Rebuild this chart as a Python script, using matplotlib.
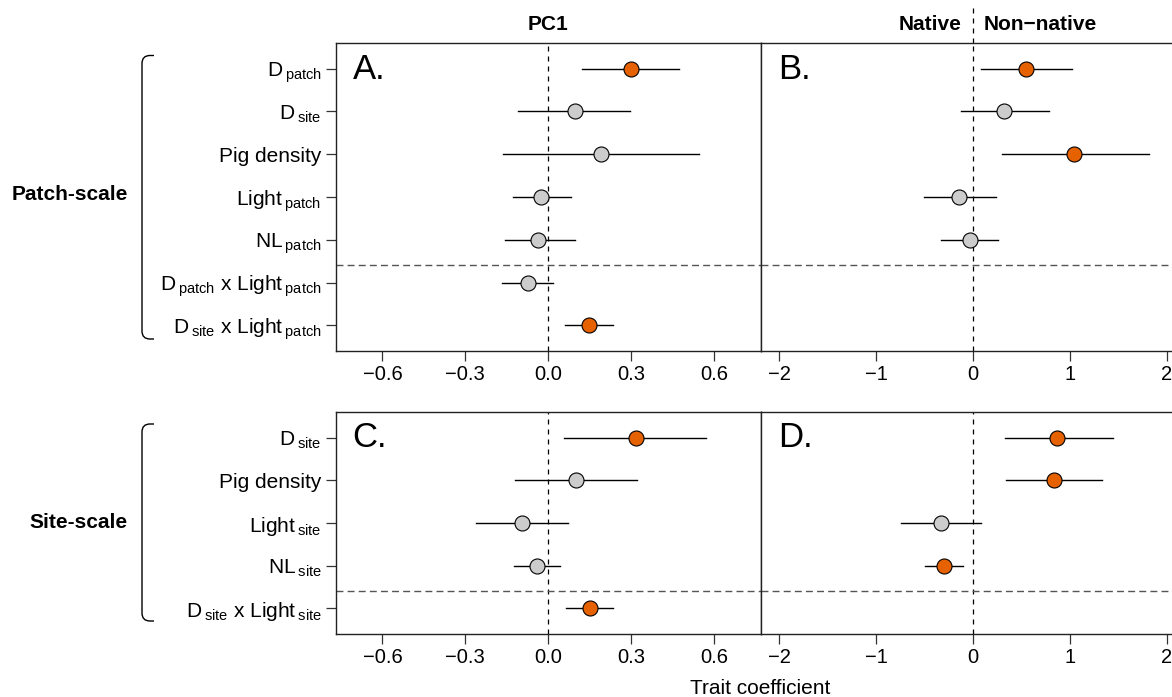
import matplotlib
matplotlib.use("Agg")
import matplotlib.pyplot as plt
from matplotlib.path import Path
from matplotlib.patches import PathPatch

plt.rcParams['font.family'] = ['Liberation Sans', 'DejaVu Sans']
plt.rcParams['mathtext.fontset'] = 'custom'
plt.rcParams['mathtext.rm'] = 'Liberation Sans'
plt.rcParams['mathtext.it'] = 'Liberation Sans'

ORANGE = '#E66100'
GREY = '#CCCCCC'
FS = 15

# patch-scale model
patch_labels = [r'D$\,_{\mathregular{patch}}$', r'D$\,_{\mathregular{site}}$', 'Pig density',
                r'Light$\,_{\mathregular{patch}}$', r'NL$\,_{\mathregular{patch}}$',
                r'D$\,_{\mathregular{patch}}$ x Light$\,_{\mathregular{patch}}$',
                r'D$\,_{\mathregular{site}}$ x Light$\,_{\mathregular{patch}}$']
pc1_patch_est = [0.298, 0.096, 0.190, -0.027, -0.036, -0.075, 0.146]
pc1_patch_lo = [0.122, -0.110, -0.163, -0.126, -0.158, -0.167, 0.060]
pc1_patch_hi = [0.473, 0.296, 0.547, 0.081, 0.096, 0.017, 0.235]
pc1_patch_sig = [True, False, False, False, False, False, True]

nat_patch_est = [0.552, 0.321, 1.048, -0.148, -0.034]
nat_patch_lo = [0.083, -0.121, 0.303, -0.507, -0.331]
nat_patch_hi = [1.021, 0.783, 1.821, 0.238, 0.262]
nat_patch_sig = [True, False, True, False, False]

# site-scale model
site_labels = [r'D$\,_{\mathregular{site}}$', 'Pig density', r'Light$\,_{\mathregular{site}}$',
               r'NL$\,_{\mathregular{site}}$', r'D$\,_{\mathregular{site}}$ x Light$\,_{\mathregular{site}}$']
pc1_site_est = [0.317, 0.102, -0.096, -0.040, 0.150]
pc1_site_lo = [0.056, -0.119, -0.262, -0.123, 0.063]
pc1_site_hi = [0.571, 0.321, 0.070, 0.042, 0.235]
pc1_site_sig = [True, False, False, False, True]

nat_site_est = [0.869, 0.838, -0.331, -0.297]
nat_site_lo = [0.328, 0.341, -0.745, -0.493]
nat_site_hi = [1.448, 1.334, 0.083, -0.100]
nat_site_sig = [True, True, False, True]

pc1_ticks = [-0.6, -0.3, 0.0, 0.3, 0.6]
pc1_ticklabels = ['\u22120.6', '\u22120.3', '0.0', '0.3', '0.6']
nat_ticks = [-2, -1, 0, 1, 2]
nat_ticklabels = ['\u22122', '\u22121', '0', '1', '2']

W, H = 1172, 697
fig = plt.figure(figsize=(W / 100, H / 100), dpi=100)


def px_axes(x0, y0, x1, y1):
    return fig.add_axes([x0 / W, 1 - y1 / H, (x1 - x0) / W, (y1 - y0) / H])


def forest(ax, est, lo, hi, sig, nrows, split, xlim, ticks, ticklabels, letter):
    ys = list(range(1, len(est) + 1))
    for y, e, l, h, s in zip(ys, est, lo, hi, sig):
        ax.plot([l, h], [y, y], color='black', lw=1.0, zorder=2)
        ax.plot(e, y, 'o', ms=10.8, mfc=ORANGE if s else GREY, mec='black', mew=0.8, zorder=3)
    ax.axvline(0, color='black', ls=(0, (4, 4)), lw=0.9, zorder=1)
    ax.axhline(split, color='#555555', ls=(0, (5, 3)), lw=1.0, zorder=1, clip_on=False)
    ax.set_xlim(*xlim)
    ax.set_ylim(nrows + 0.6, 0.4)
    ax.set_xticks(ticks)
    ax.set_xticklabels(ticklabels, fontsize=FS - 0.5)
    ax.tick_params(axis='x', length=7, width=0.9, pad=3, color='#333333')
    for sp in ax.spines.values():
        sp.set_linewidth(1.0)
        sp.set_color('#222222')
    ax.text(0.04, 0.915 if nrows == 7 else 0.885, letter, transform=ax.transAxes,
            fontsize=25, ha='left', va='center')


axA = px_axes(335.5, 43, 761, 351)
axB = px_axes(761, 43, 1185, 351)
axC = px_axes(335.5, 412, 761, 634)
axD = px_axes(761, 412, 1185, 634)

forest(axA, pc1_patch_est, pc1_patch_lo, pc1_patch_hi, pc1_patch_sig, 7, 5.6,
       (-0.77, 0.77), pc1_ticks, pc1_ticklabels, 'A.')
forest(axB, nat_patch_est, nat_patch_lo, nat_patch_hi, nat_patch_sig, 7, 5.6,
       (-2.19, 2.19), nat_ticks, nat_ticklabels, 'B.')
forest(axC, pc1_site_est, pc1_site_lo, pc1_site_hi, pc1_site_sig, 5, 4.6,
       (-0.77, 0.77), pc1_ticks, pc1_ticklabels, 'C.')
forest(axD, nat_site_est, nat_site_lo, nat_site_hi, nat_site_sig, 5, 4.6,
       (-2.19, 2.19), nat_ticks, nat_ticklabels, 'D.')

for ax, labels in [(axA, patch_labels), (axC, site_labels)]:
    ax.set_yticks(range(1, len(labels) + 1))
    ax.set_yticklabels(labels, fontsize=FS)
    ax.tick_params(axis='y', length=7, width=0.9, pad=3, color='#333333')
for ax in (axB, axD):
    ax.set_yticks([])

# dashed zero line above panel B
axB.plot([0, 0], [0.4, -0.5], color='black', ls=(0, (4, 4)), lw=0.9, clip_on=False)

fig.text(548 / W, 1 - 25 / H, 'PC1', fontsize=FS, fontweight='bold', ha='center', va='center')
fig.text(962 / W, 1 - 25 / H, 'Native', fontsize=FS, fontweight='bold', ha='right', va='center')
fig.text(984 / W, 1 - 25 / H, 'Non\u2212native', fontsize=FS, fontweight='bold', ha='left', va='center')
fig.text(760 / W, 1 - 688 / H, 'Trait coefficient', fontsize=FS, ha='center', va='center')

fig.text(128 / W, 1 - 195 / H, 'Patch-scale', fontsize=FS, fontweight='bold', ha='right', va='center')
fig.text(128 / W, 1 - 523 / H, 'Site-scale', fontsize=FS, fontweight='bold', ha='right', va='center')


def bracket(y0, y1, x=142, x_end=154, r=8):
    pts = [(x_end, y0), (x + r, y0), (x, y0), (x, y0 + r),
           (x, y1 - r), (x, y1), (x + r, y1), (x_end, y1)]
    codes = [Path.MOVETO, Path.LINETO, Path.CURVE3, Path.CURVE3,
             Path.LINETO, Path.CURVE3, Path.CURVE3, Path.LINETO]
    verts = [(px / W, 1 - py / H) for px, py in pts]
    fig.add_artist(PathPatch(Path(verts, codes), transform=fig.transFigure,
                             fill=False, lw=1.0, color='black'))


bracket(55.5, 339)
bracket(424, 621)

fig.savefig('out.png', dpi=100)
